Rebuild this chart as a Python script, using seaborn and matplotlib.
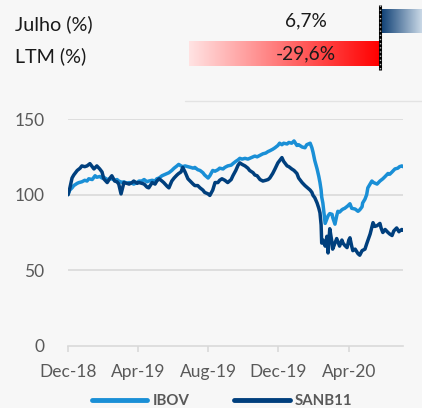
import numpy as np
import pandas as pd
import matplotlib
matplotlib.use("Agg")
import matplotlib.pyplot as plt
import seaborn as sns
from matplotlib.lines import Line2D
from matplotlib.colors import LinearSegmentedColormap

# ---------------- data ----------------
ibov_dates = [
    "2018-12-28", "2018-12-31", "2019-01-04", "2019-01-07", "2019-01-13", "2019-01-16",
    "2019-01-21", "2019-01-26", "2019-01-30", "2019-02-02", "2019-02-08", "2019-02-13",
    "2019-02-16", "2019-02-21", "2019-02-25", "2019-02-28", "2019-03-06", "2019-03-11",
    "2019-03-14", "2019-03-19", "2019-03-23", "2019-03-26", "2019-04-01", "2019-04-04",
    "2019-04-09", "2019-04-13", "2019-04-18", "2019-04-21", "2019-04-27", "2019-04-30",
    "2019-05-05", "2019-05-09", "2019-05-14", "2019-05-17", "2019-05-23", "2019-05-28",
    "2019-05-31", "2019-06-04", "2019-06-09", "2019-06-12", "2019-06-18", "2019-06-21",
    "2019-06-26", "2019-06-30", "2019-07-05", "2019-07-08", "2019-07-12", "2019-07-15",
    "2019-07-19", "2019-07-24", "2019-07-29", "2019-08-02", "2019-08-05", "2019-08-10",
    "2019-08-14", "2019-08-19", "2019-08-22", "2019-08-28", "2019-08-31", "2019-09-05",
    "2019-09-09", "2019-09-14", "2019-09-17", "2019-09-23", "2019-09-26", "2019-10-01",
    "2019-10-07", "2019-10-10", "2019-10-15", "2019-10-19", "2019-10-22", "2019-10-26",
    "2019-10-31", "2019-11-05", "2019-11-08", "2019-11-14", "2019-11-17", "2019-11-21",
    "2019-11-26", "2019-12-01", "2019-12-06", "2019-12-10", "2019-12-13", "2019-12-18",
    "2019-12-22", "2019-12-27", "2019-12-30", "2020-01-03", "2020-01-06", "2020-01-12",
    "2020-01-15", "2020-01-20", "2020-01-24", "2020-01-29", "2020-02-01", "2020-02-07",
    "2020-02-12", "2020-02-15", "2020-02-21", "2020-02-24", "2020-02-26", "2020-02-29",
    "2020-03-04", "2020-03-07", "2020-03-09", "2020-03-11", "2020-03-12", "2020-03-14",
    "2020-03-18", "2020-03-21", "2020-03-23", "2020-03-26", "2020-03-30", "2020-03-31",
    "2020-04-04", "2020-04-07", "2020-04-09", "2020-04-12", "2020-04-16", "2020-04-18",
    "2020-04-21", "2020-04-26", "2020-04-30", "2020-05-03", "2020-05-09", "2020-05-14",
    "2020-05-17", "2020-05-21", "2020-05-22", "2020-05-26", "2020-05-29", "2020-05-31",
    "2020-06-04", "2020-06-07", "2020-06-10", "2020-06-16", "2020-06-21", "2020-06-26",
    "2020-06-30", "2020-07-05", "2020-07-08", "2020-07-12", "2020-07-17", "2020-07-22",
    "2020-07-25", "2020-07-29", "2020-07-31",
]
ibov_values = [
    100, 103, 104.5, 106, 107.5, 108,
    108.5, 109.5, 109, 110.5, 110, 112.5,
    111.5, 112, 111, 111.5, 110, 110.5,
    110.5, 109.5, 110, 109, 108, 108.5,
    107.5, 108, 107.5, 107, 108, 109,
    109, 110, 108.5, 109, 109.5, 109,
    110.5, 111, 112.5, 113, 114, 114.5,
    116, 117.5, 119, 120, 119, 118.5,
    119, 118.5, 118, 117.5, 118, 116.5,
    116, 114.5, 113, 111, 112.5, 116,
    115.5, 116.5, 117.5, 117, 118, 119,
    119.5, 120.5, 122, 123, 124, 123.5,
    124, 123.5, 124, 125, 125.5, 125,
    126, 127, 127.5, 128.5, 129, 130,
    131, 132.5, 134, 133, 134, 133.5,
    134.5, 134, 135.5, 132.5, 133, 131.5,
    131, 133, 134, 131, 128, 122.5,
    117, 112, 108, 103, 98.5, 94.5,
    81, 84, 86, 87.5, 87, 85,
    80.5, 86, 89, 88.5, 90, 90.5,
    91, 92.5, 94, 91, 90.5, 89,
    90, 92, 94.5, 97, 100, 104.5,
    107, 109, 108, 107, 109, 110.5,
    112, 114, 113.5, 115, 117, 117.5,
    118.5, 119, 118.5,
]

sanb_dates = [
    "2018-12-28", "2018-12-31", "2019-01-04", "2019-01-07", "2019-01-13", "2019-01-18",
    "2019-01-21", "2019-01-26", "2019-01-30", "2019-02-04", "2019-02-08", "2019-02-11",
    "2019-02-16", "2019-02-21", "2019-02-25", "2019-02-28", "2019-03-06", "2019-03-11",
    "2019-03-14", "2019-03-19", "2019-03-23", "2019-03-26", "2019-03-30", "2019-04-04",
    "2019-04-09", "2019-04-13", "2019-04-18", "2019-04-21", "2019-04-27", "2019-04-30",
    "2019-05-05", "2019-05-09", "2019-05-14", "2019-05-17", "2019-05-23", "2019-05-28",
    "2019-05-31", "2019-06-04", "2019-06-09", "2019-06-12", "2019-06-18", "2019-06-21",
    "2019-06-26", "2019-06-30", "2019-07-05", "2019-07-08", "2019-07-12", "2019-07-15",
    "2019-07-19", "2019-07-24", "2019-07-29", "2019-08-02", "2019-08-05", "2019-08-10",
    "2019-08-14", "2019-08-19", "2019-08-22", "2019-08-28", "2019-08-31", "2019-09-05",
    "2019-09-09", "2019-09-14", "2019-09-17", "2019-09-21", "2019-09-26", "2019-10-01",
    "2019-10-07", "2019-10-10", "2019-10-15", "2019-10-19", "2019-10-22", "2019-10-26",
    "2019-10-31", "2019-11-05", "2019-11-08", "2019-11-14", "2019-11-17", "2019-11-21",
    "2019-11-26", "2019-12-01", "2019-12-06", "2019-12-10", "2019-12-13", "2019-12-18",
    "2019-12-22", "2019-12-27", "2019-12-30", "2020-01-03", "2020-01-06", "2020-01-12",
    "2020-01-15", "2020-01-20", "2020-01-24", "2020-01-29", "2020-02-01", "2020-02-07",
    "2020-02-12", "2020-02-15", "2020-02-21", "2020-02-24", "2020-02-26", "2020-02-29",
    "2020-03-04", "2020-03-07", "2020-03-09", "2020-03-11", "2020-03-12", "2020-03-14",
    "2020-03-18", "2020-03-21", "2020-03-23", "2020-03-26", "2020-03-30", "2020-03-31",
    "2020-04-04", "2020-04-07", "2020-04-11", "2020-04-12", "2020-04-16", "2020-04-18",
    "2020-04-21", "2020-04-25", "2020-04-28", "2020-04-30", "2020-05-03", "2020-05-05",
    "2020-05-09", "2020-05-14", "2020-05-17", "2020-05-21", "2020-05-26", "2020-05-29",
    "2020-06-04", "2020-06-09", "2020-06-12", "2020-06-16", "2020-06-21", "2020-06-23",
    "2020-06-26", "2020-06-30", "2020-07-05", "2020-07-08", "2020-07-12", "2020-07-15",
    "2020-07-20", "2020-07-24", "2020-07-25", "2020-07-29", "2020-07-31",
]
sanb_values = [
    100, 104, 111, 113, 116, 117.5,
    119, 118.5, 119, 120.5, 118.5, 117,
    119, 117, 115, 110.5, 108, 111,
    112.5, 109, 108.5, 107, 100.5, 108,
    107.5, 107, 108, 109, 107.5, 108,
    107.5, 107, 105, 104.5, 108, 107,
    109, 110.5, 109, 108, 105.5, 104.5,
    109, 111, 113, 114, 115, 118,
    115, 110.5, 108.5, 107, 106, 106,
    104.5, 103, 101.5, 100.5, 99.5, 103,
    108, 108, 109.5, 110.5, 109.5, 108,
    110, 112.5, 116, 119.5, 121, 120,
    119, 117.5, 116, 114.5, 113, 112.5,
    110, 109, 109.5, 110, 111, 114,
    117, 121, 122.5, 124.5, 122, 119,
    118.5, 117, 116, 114, 111, 108,
    106, 105, 103, 101.5, 99.5, 98,
    94.5, 91, 88, 80, 68, 70,
    66, 72.5, 61.5, 77.5, 68, 64,
    68, 71, 67, 66, 70, 68,
    66.5, 65, 70, 71.5, 66, 63,
    64, 61, 60, 63, 64, 67.5,
    74, 81.5, 79, 79.5, 81, 78,
    75, 77, 75, 74, 73, 76,
    78, 75.5, 76, 77, 76.5,
]

series_names = ["IBOV", "SANB11"]
tick_dates = ["2018-12-28", "2019-04-28", "2019-08-28", "2019-12-28", "2020-04-28"]
tick_labels = ["Dec-18", "Apr-19", "Aug-19", "Dec-19", "Apr-20"]
y_ticks = [0, 50, 100, 150]

perf_labels = ["Julho (%)", "LTM (%)"]
perf_values = [6.7, -29.6]
perf_texts = ["6,7%", "-29,6%"]

# ---------------- style ----------------
BG = "#f7f7f7"
C_IBOV = "#1a8fd6"
C_SANB = "#003f7d"
GRID = "#d9d9d9"
TXT = "#595959"

sns.set_theme(style="white")
plt.rcParams["font.family"] = ["Lato", "DejaVu Sans"]

W, H = 422, 408
fig = plt.figure(figsize=(W / 100, H / 100), dpi=100, facecolor=BG)

def px_rect(x0, y0, x1, y1):
    return [x0 / W, (H - y1) / H, (x1 - x0) / W, (y1 - y0) / H]

# ---------------- top panel ----------------
axt = fig.add_axes(px_rect(0, 0, W, 75))
axt.set_facecolor(BG)
perf_df = pd.DataFrame({"label": perf_labels, "value": perf_values})
sns.barplot(data=perf_df, y="label", x="value", orient="h", ax=axt,
            width=0.76, color="white", edgecolor="none")
scale = 191 / 29.6  # px per %
x_left = -380 / scale
x_right = (W - 380) / scale
axt.axis("off")

cmap_blue = LinearSegmentedColormap.from_list("b", ["#0a3c72", "#d3e0ec"])
cmap_red = LinearSegmentedColormap.from_list("r", ["#ffe3e3", "#ff0000"])
grad = np.linspace(0, 1, 256).reshape(1, -1)
for patch, cm in zip(axt.patches, [cmap_blue, cmap_red]):
    x0, y0 = patch.get_x(), patch.get_y()
    w, h = patch.get_width(), patch.get_height()
    xa, xb = sorted([x0, x0 + w])
    im = axt.imshow(grad, cmap=cm, aspect="auto", extent=[xa, xb, y0 + h, y0],
                    zorder=2, interpolation="bicubic")
    im.set_clip_path(patch)
axt.set_xlim(x_left, x_right)
axt.set_ylim(1 + 21.5 / 32.5, -21 / 32.5)

for i, (lab, txt) in enumerate(zip(perf_labels, perf_texts)):
    axt.text(15 / W, 1 - (24 + 32.5 * i) / 75, lab, transform=axt.transAxes,
             ha="left", va="center", fontsize=14.2, color="#1a1a1a")
    axt.text(-11.5, i, txt, ha="center", va="center", fontsize=13.8,
             color="#1a1a1a", zorder=5)

axt.plot([0, 0], [-16 / 32.5, 1 + 16.5 / 32.5], color="black", lw=2.2,
         zorder=6, solid_capstyle="butt")
axt.plot([0, 0], [-16 / 32.5, 1 + 16.5 / 32.5], color="#bbbbbb", lw=1.0,
         ls=(0, (1, 2)), zorder=7)

# faint separator line
fig.add_artist(Line2D([185 / W, 1.0], [(H - 101) / H] * 2, color="#e3e3e3",
                      lw=1.0, transform=fig.transFigure))

# ---------------- main chart ----------------
df = pd.concat([
    pd.DataFrame({"date": pd.to_datetime(ibov_dates), "value": ibov_values, "serie": series_names[0]}),
    pd.DataFrame({"date": pd.to_datetime(sanb_dates), "value": sanb_values, "serie": series_names[1]}),
], ignore_index=True)

ax = fig.add_axes(px_rect(68, 119, 403, 346))
ax.set_facecolor(BG)
sns.lineplot(data=df, x="date", y="value", hue="serie", hue_order=series_names,
             palette={"IBOV": C_IBOV, "SANB11": C_SANB}, linewidth=2.5,
             ax=ax, legend=False)

ax.set_xlim(pd.Timestamp(ibov_dates[0]), pd.Timestamp(ibov_dates[-1]))
ax.set_ylim(0, 150)
ax.set_yticks(y_ticks)
ax.set_yticklabels([str(v) for v in y_ticks])
ax.set_xticks(pd.to_datetime(tick_dates))
ax.set_xticklabels(tick_labels)
ax.set_xlabel("")
ax.set_ylabel("")
for v in y_ticks[1:]:
    ax.axhline(v, color=GRID, lw=1.2, zorder=0)
for s in ["top", "right", "left"]:
    ax.spines[s].set_visible(False)
ax.spines["bottom"].set_color(GRID)
ax.spines["bottom"].set_linewidth(1.2)
ax.tick_params(axis="x", which="both", bottom=True, length=4, width=1.2,
               color=GRID, labelsize=12.5, labelcolor=TXT, pad=9)
ax.tick_params(axis="y", length=0, labelsize=12.5, labelcolor=TXT, pad=17)
ax.grid(False)

handles = [Line2D([], [], color=C_IBOV, lw=3.5), Line2D([], [], color=C_SANB, lw=3.5)]
leg = fig.legend(handles, series_names, loc="center", bbox_to_anchor=(222 / W, (H - 401) / H),
                 ncol=2, frameon=False, handlelength=3.7, handletextpad=0.35,
                 columnspacing=3.0, prop={"weight": "bold", "size": 10.8})
for t in leg.get_texts():
    t.set_color(TXT)

fig.savefig("out.png", dpi=100, facecolor=BG)
